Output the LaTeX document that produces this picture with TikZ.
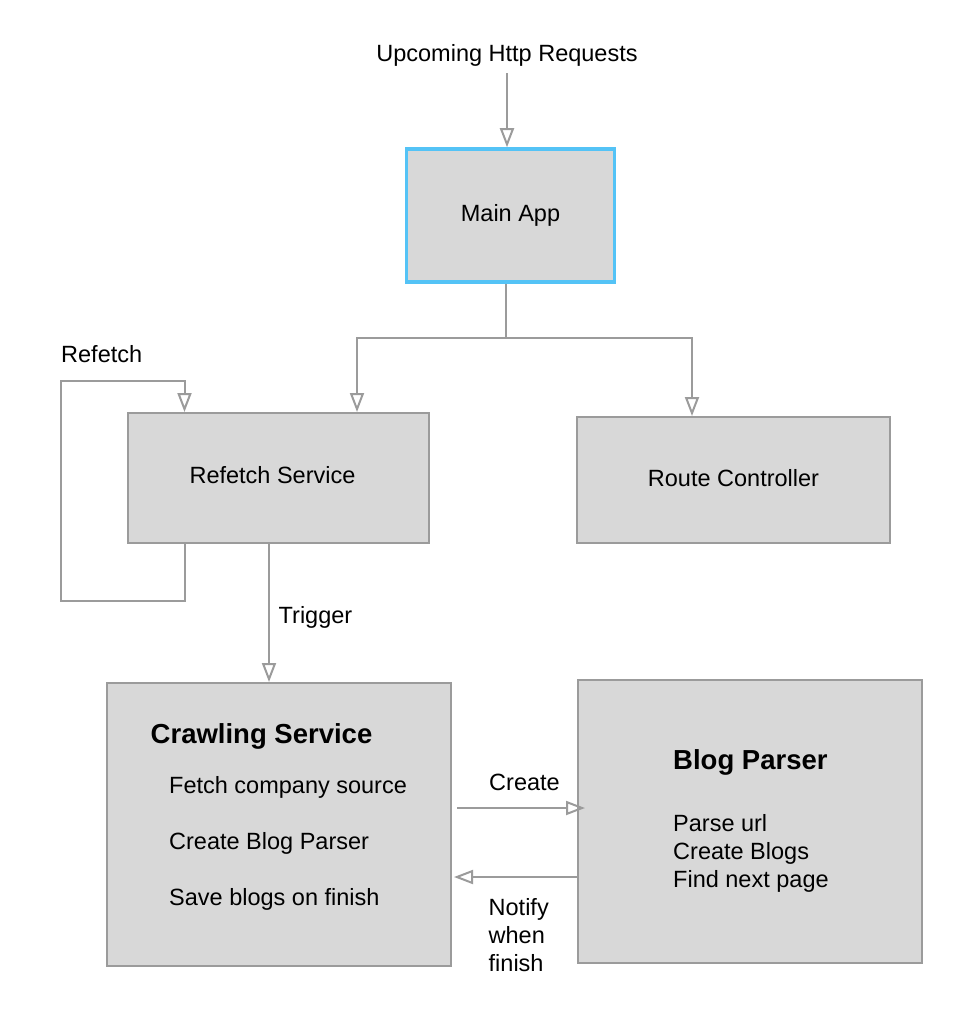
\documentclass[tikz,border=0pt]{standalone}
\usepackage{fontspec}
\setsansfont{Liberation Sans}
\usetikzlibrary{arrows.meta,positioning,calc}

\begin{document}
\begin{tikzpicture}[x=1pt, y=-1pt, font=\fontsize{23.5}{28}\selectfont\sffamily]
		\definecolor{linegray}{RGB}{155,155,155}
		\definecolor{boxgray}{RGB}{216,216,216}
		\definecolor{appblue}{RGB}{84,195,246}
		\tikzset{box/.style={draw=linegray,line width=2pt,fill=boxgray,inner sep=0pt}}
		\tikzset{mainbox/.style={box,draw=appblue,line width=3.5pt}}
		\tikzset{sa/.style={-{Triangle[open,length=19pt,width=14pt]},draw=linegray,line width=2pt}}
		\tikzset{lbl/.style={anchor=base west,inner sep=0pt}}
		\tikzset{ttl/.style={lbl,font=\fontsize{27.5}{32}\selectfont\sffamily\bfseries}}

		\useasboundingbox (0,0) rectangle (978,1014);

		% Incoming requests
		\node[anchor=base,inner sep=0pt] (requests) at (507,62) {Upcoming Http Requests};

		% Main App
		\node[mainbox,minimum width=208,minimum height=133] (main) at (510.5,215.5) {Main App};

		% Refetch Service
		\node[box,minimum width=301,minimum height=130] (refetch) at (278.5,478) {};
		\node[anchor=base,inner sep=0pt] (refetch text) at (272.5,483.5) {Refetch Service};

		% Route Controller
		\node[box,minimum width=313,minimum height=126] (route) at (733.5,480) {};
		\node[anchor=base,inner sep=0pt] (route text) at (733.5,486) {Route Controller};

		% Crawling Service
		\node[box,minimum width=344,minimum height=283] (crawl) at (279,824.5) {};
		\node[ttl] (crawl title) at (150.5,743.5) {Crawling Service};
		\node[lbl] (fetch) at (169,793.5) {Fetch company source};
		\node[lbl] (create parser) at (169,849.5) {Create Blog Parser};
		\node[lbl] (save) at (169,905) {Save blogs on finish};

		% Blog Parser
		\node[box,minimum width=344,minimum height=283] (blog) at (750,821.5) {};
		\node[ttl] (blog title) at (673,769.5) {Blog Parser};
		\node[lbl] (parse) at (673,831) {Parse url};
		\node[lbl] (create blogs) at (673,859) {Create Blogs};
		\node[lbl] (next page) at (673,887) {Find next page};

		% Arrow labels
		\node[lbl] (refetch label) at (61,362) {Refetch};
		\node[lbl] (trigger label) at (278.5,623.5) {Trigger};
		\node[lbl] (create label) at (489,790) {Create};
		\node[lbl,align=left] (notify label) at (488.5,971) {Notify\\when\\finish};

		% Requests into the app
		\draw[sa] ([yshift=-6]requests.south) -- (requests.south |- main.north);

		% Split to the services
		\coordinate (split) at ([xshift=-5,yshift=-54]main.south);
		\draw[sa] ([xshift=-5]main.south) -- (split) -| ([xshift=78.5]refetch.north);
		\draw[sa] (split) -| ([xshift=-41.5]route.north);

		% Refetch loop
		\draw[sa] ([xshift=-94]refetch.south) -- ++(0,57) -- ++(-124,0) -- ++(0,-220) -- ++(124,0) -- ([xshift=-94]refetch.north);

		% Trigger
		\draw[sa] ([xshift=-9.5]refetch.south) -- ([xshift=-10]crawl.north);

		% Create and notify
		\draw[sa] ([xshift=5,yshift=16.5]crawl.east) -- ([xshift=8,yshift=16.5]crawl.east -| blog.west);
		\draw[sa] ([yshift=-55.5]blog.west) -- ([xshift=2,yshift=-55.5]blog.west -| crawl.east);
	\end{tikzpicture}
\end{document}
